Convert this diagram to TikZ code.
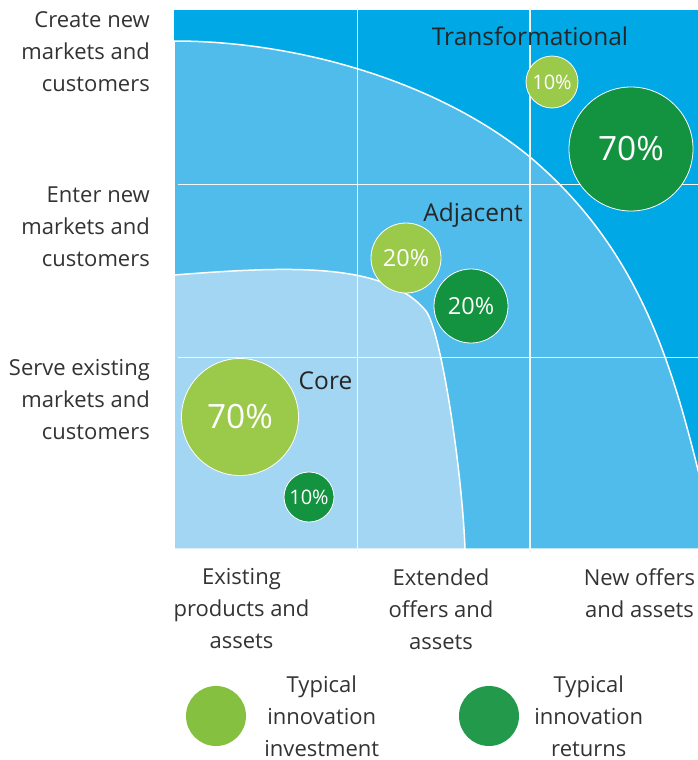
\documentclass[tikz,border=0pt]{standalone}
\usepackage{fontspec}
\setmainfont{Open Sans}
\usetikzlibrary{positioning}

\definecolor{bgdark}{HTML}{00A9E6}
\definecolor{bgmid}{HTML}{4FBCEB}
\definecolor{bglight}{HTML}{A3D6F3}
\definecolor{invgreen}{HTML}{9BC94A}
\definecolor{retgreen}{HTML}{13923F}
\definecolor{leginv}{HTML}{86C040}
\definecolor{legret}{HTML}{239A4B}
\definecolor{txtgray}{HTML}{333333}

\begin{document}
\begin{tikzpicture}[x=1pt,y=-1pt]
        \tikzset{axlbl/.style={font=\fontsize{22}{32}\selectfont, text=txtgray, inner sep=0pt},
        zone/.style={font=\fontsize{24.5}{30}\selectfont, text=black!85, inner sep=0pt},
        bub/.style={circle, draw=white, line width=0.8pt, text=white, inner sep=0pt},
        inv/.style={bub, fill=invgreen},
        ret/.style={bub, fill=retgreen},
        big/.style={font=\fontsize{33.5}{40}\selectfont},
        mid/.style={font=\fontsize{23.5}{28}\selectfont},
        small/.style={font=\fontsize{20}{24}\selectfont},
        legdot/.style={circle, minimum size=60pt, inner sep=0pt},
        gridln/.style={draw=gray!8, line width=1.5pt},
        zoneedge/.style={draw=white, line width=1.5pt}
        }
        \useasboundingbox (0,0) rectangle (698,760);

%%% regions
        \fill[bgdark] (174,10) rectangle (700,549);
        \filldraw[fill=bgmid, zoneedge] (174,549) -- (174,41)
            .. controls (300,41) and (440,83) .. (530,157)
            .. controls (640,250) and (672,365) .. (700,478)
            -- (700,549) -- cycle;
        \filldraw[fill=bglight, zoneedge] (174,549) -- (174,275)
            .. controls (290,266) and (385,262) .. (426,311)
            .. controls (441,331) and (462,469) .. (465,549)
            -- cycle;
        \foreach \gx in {357.5,530} \draw[gridln] (\gx,8) -- (\gx,552);
        \foreach \gy in {184.5,357.5} \draw[gridln] (178,\gy) -- (700,\gy);

%%% bubbles
        \node [inv, small, minimum size=52pt] (invT) at (552,82) {10\%};
        \node [ret, big, minimum size=124pt] (retT) at (631,149) {70\%};
        \node [inv, mid, minimum size=70pt] (invA) at (406,258) {20\%};
        \node [ret, mid, minimum size=74pt] (retA) at (471,306) {20\%};
        \node [inv, big, minimum size=117pt] (invC) at (240,417) {70\%};
        \node [ret, small, minimum size=50pt] (retC) at (309,497) {10\%};

        \node [zone] (transf) at (530,36.5) {Transformational};
        \node [zone] (adj) at (473,215) {Adjacent};
        \node [zone] (core) at (325.5,381) {Core};

%%% axis labels
        \node [axlbl, align=right, anchor=east] (create) at (150,51.5) {Create new\\markets and\\customers};
        \node [axlbl, align=right, anchor=east] (enter) at (150,227) {Enter new\\markets and\\customers};
        \node [axlbl, align=right, anchor=east] (serve) at (150,400) {Serve existing\\markets and\\customers};
        \node [axlbl, align=center] (existing) at (241.5,609) {Existing\\products and\\assets};
        \node [axlbl, align=center] (extended) at (441,609) {Extended\\offers and\\assets};
        \node [axlbl, align=center] (newoff) at (639.5,593.5) {New offers\\and assets};

%%% legend
        \node [legdot, fill=leginv] (legI) at (216,716) {};
        \node [axlbl, align=center, right=18pt of legI] (legItxt) {Typical\\innovation\\investment};
        \node [legdot, fill=legret] (legR) at (489,716) {};
        \node [axlbl, align=center, right=15pt of legR] (legRtxt) {Typical\\innovation\\returns};
\end{tikzpicture}
\end{document}
